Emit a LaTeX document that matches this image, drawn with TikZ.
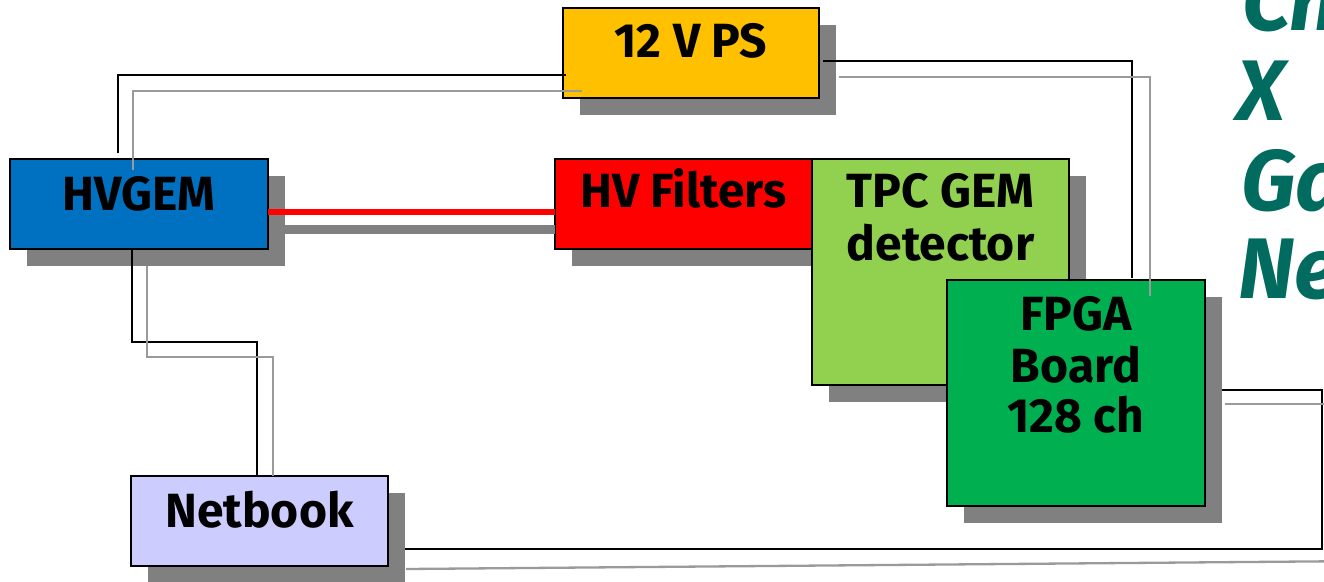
\documentclass[tikz,border=0pt]{standalone}
\usepackage{fontspec}
\setmainfont{Fira Sans}
\usetikzlibrary{calc,shadows}
\definecolor{psyellow}{HTML}{FFC000}
\definecolor{hvblue}{HTML}{0070C0}
\definecolor{hvred}{HTML}{FF0000}
\definecolor{tpcgreen}{HTML}{92D050}
\definecolor{fpgagreen}{HTML}{00B050}
\definecolor{netlav}{HTML}{CCCCFF}
\definecolor{shgray}{HTML}{808080}
\definecolor{linegray}{HTML}{9A9A9A}
\definecolor{tealtxt}{HTML}{006B5E}
\begin{document}
\begin{tikzpicture}[x=1pt,y=-1pt,
  box/.style={draw=black, line width=1.6pt, inner sep=0pt, outer sep=0pt, anchor=north west,
    drop shadow={shadow xshift=17pt, shadow yshift=-17pt, fill=shgray, opacity=1}},
  lbl/.style={font=\fontsize{48}{56}\selectfont\bfseries, inner sep=0pt, anchor=base},
  big/.style={font=\fontsize{86}{90}\selectfont\bfseries\itshape, text=tealtxt, inner sep=0pt, anchor=base west},
  blk/.style={draw=black, line width=2.3pt},
  gry/.style={draw=linegray, line width=2.3pt}]
\useasboundingbox (0,0) rectangle (1324,581);
\clip (0,0) rectangle (1324,581);
\fill[white] (0,0) rectangle (1324,581);

% boxes
\node[box, fill=psyellow, minimum width=256pt, minimum height=90pt] (ps) at (563,8) {};
\node[box, fill=hvblue, minimum width=258pt, minimum height=90pt] (hvgem) at (10,159) {};
\node[box, fill=hvred, minimum width=257pt, minimum height=90pt] (hvf) at (555,159) {};
\node[box, fill=tpcgreen, minimum width=257pt, minimum height=226pt] (tpc) at (812,159) {};
\node[box, fill=fpgagreen, minimum width=258pt, minimum height=226pt] (fpga) at (947,280) {};
\node[box, fill=netlav, minimum width=257pt, minimum height=90pt] (net) at (131,476) {};

% labels
\node[lbl] (ps-t) at ($(ps.north)+(0,49)$) {12 V PS};
\node[lbl] (hvgem-t) at ($(hvgem.north)+(0,51)$) {HVGEM};
\node[lbl] (hvf-t) at ($(hvf.north)+(0,48)$) {HV Filters};
\node[lbl] (tpc-t1) at ($(tpc.north)+(0,48)$) {TPC GEM};
\node[lbl] (tpc-t2) at ($(tpc.north)+(0,101)$) {detector};
\node[lbl] (fpga-t1) at ($(fpga.north)+(0,50)$) {FPGA};
\node[lbl] (fpga-t2) at ($(fpga.north)+(0,102)$) {Board};
\node[lbl] (fpga-t3) at ($(fpga.north)+(0,152)$) {128 ch};
\node[lbl] (net-t) at ($(net.north)+(0,51)$) {Netbook};

% HV cable
\draw[draw=shgray, line width=9pt] ($(hvgem.north east)+(16,70)$) -- ($(hvf.north west)+(0,70)$);
\draw[draw=hvred, line width=6pt] ($(hvgem.north east)+(0,53)$) -- ($(hvf.north west)+(0,53)$);

% power / data cables
\draw[blk] ($(hvgem.north west)+(108,-6)$) |- ($(ps.north west)+(3,67)$);
\draw[gry] ($(hvgem.north west)+(123,11)$) |- ($(ps.north west)+(19,83)$);
\draw[blk] ($(ps.north east)+(4,53)$) -| ($(fpga.north west)+(185,-2)$);
\draw[gry] ($(ps.north east)+(20,69)$) -| ($(fpga.north west)+(203,16)$);
\draw[blk] ($(hvgem.south west)+(122,0)$) -- ++(0,93) -| ($(net.north west)+(126,0)$);
\draw[gry] ($(hvgem.south west)+(137,17)$) -- ++(0,91) -| ($(net.north west)+(142,0)$);
\draw[blk] ($(fpga.north east)+(17,110)$) -- ++(100,0) |- ($(net.north east)+(17,73)$);
\draw[gry] ($(fpga.north east)+(20,124)$) -- ++(140,0);
\draw[gry] ($(net.north east)+(18,93)$) -- ++(960,-8);

% teal side text (cut by the right edge, as in the reference)
\node[big] (s1) at (1242,30) {Ch};
\node[big] (s2) at (1236,120) {X};
\node[big] (s3) at (1241,210) {Ga};
\node[big] (s4) at (1238,298) {Ne};
\end{tikzpicture}
\end{document}
